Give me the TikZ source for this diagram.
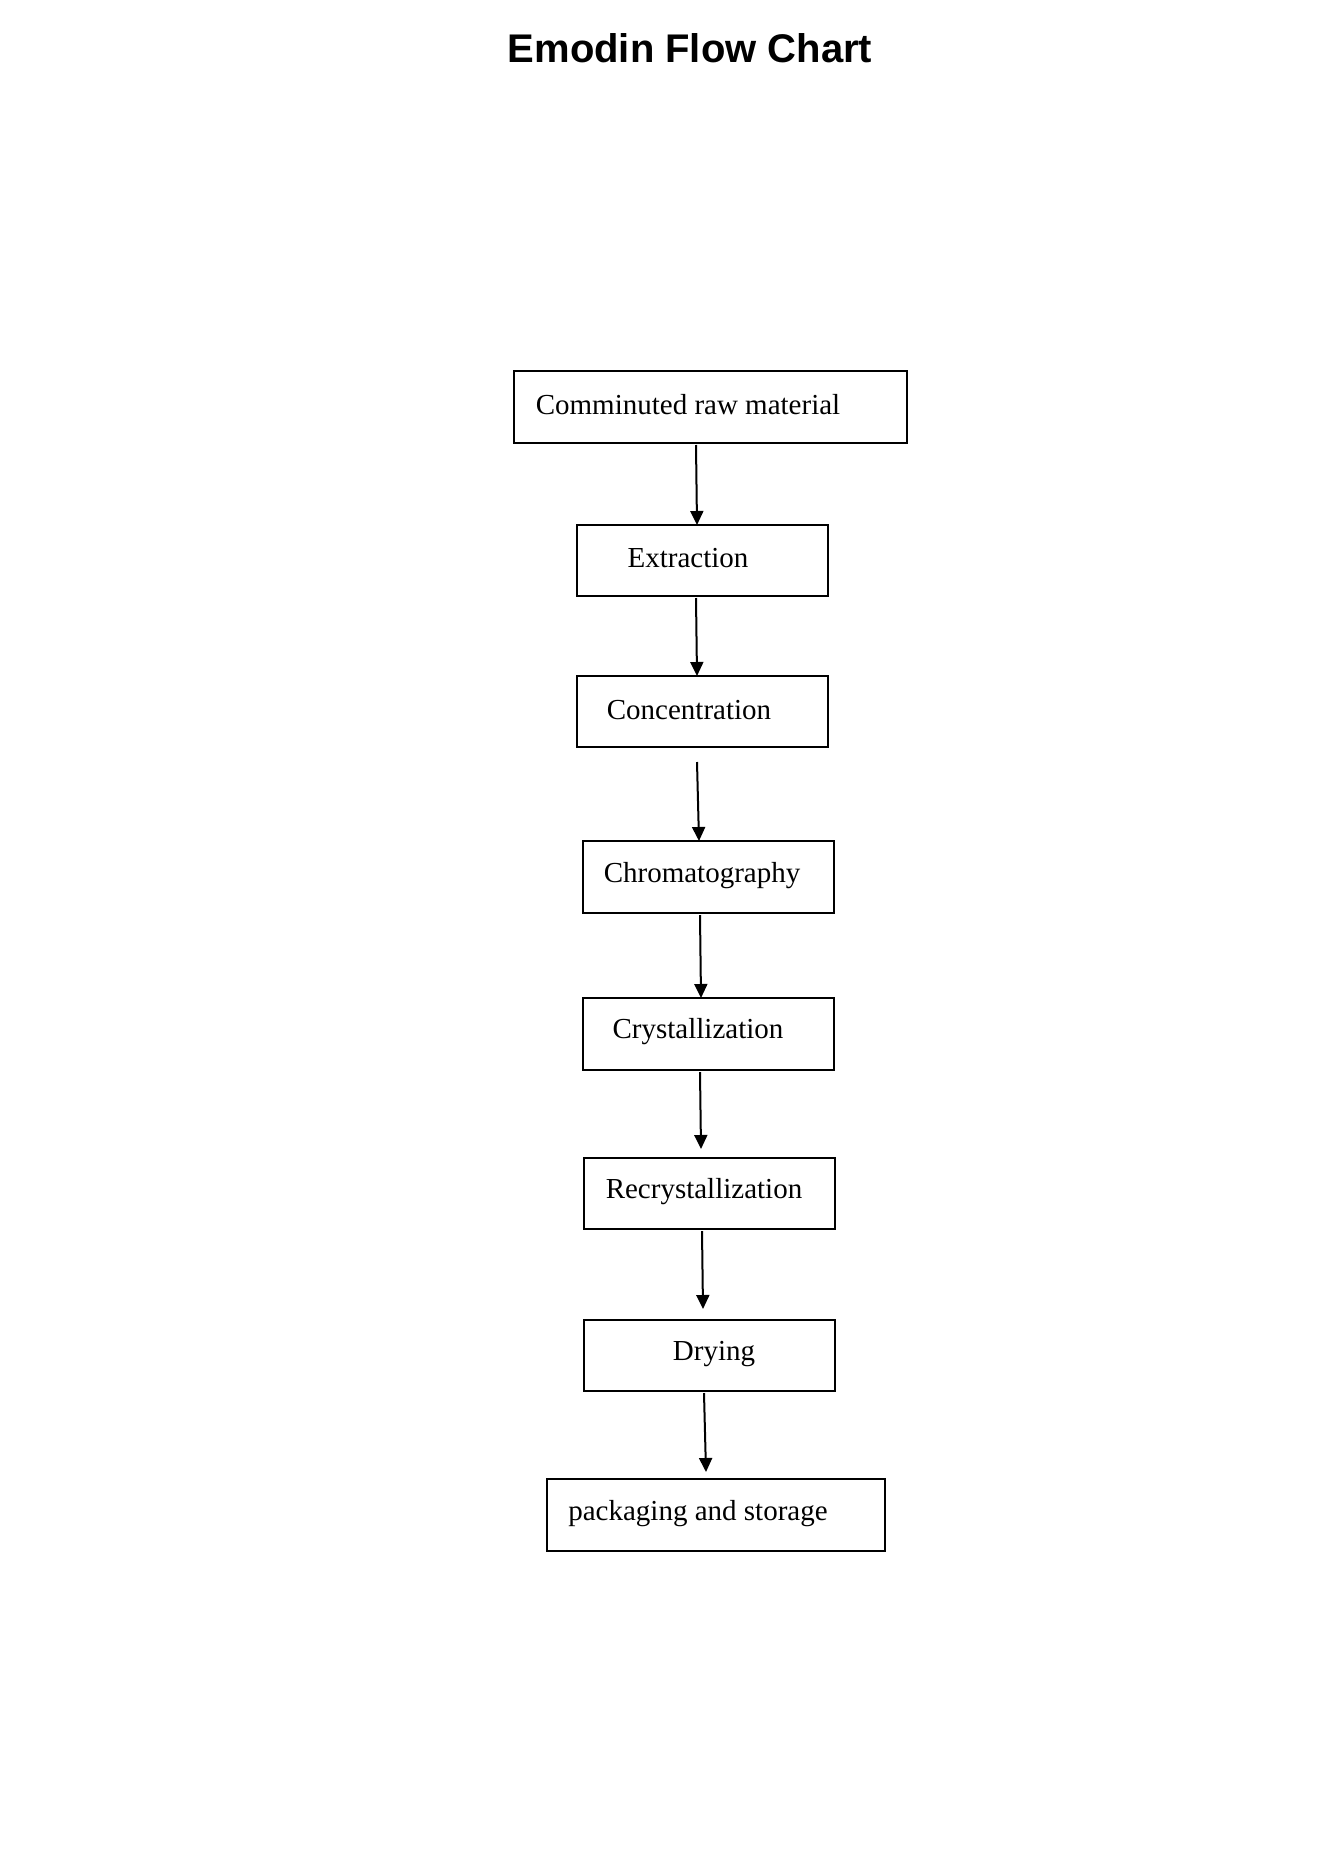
\documentclass[tikz,border=0pt]{standalone}
\usepackage{fontspec}
\setmainfont{Liberation Serif}
\newfontfamily\titlefont{Liberation Sans}
\usetikzlibrary{arrows.meta, positioning}
\begin{document}
\begin{tikzpicture}
			[x=1pt, y=-1pt,
			box/.style={draw, line width=2pt, inner sep=0pt},
			lbl/.style={font=\fontsize{29}{34}\selectfont, text centered},
			arr/.style={-{Triangle[length=14pt, width=13pt]}, line width=2pt}]
			\useasboundingbox (0,0) rectangle (1323,1871);
			% title %
			\node[font=\titlefont\bfseries\fontsize{40}{46}\selectfont] (title) at (690,48) {Emodin Flow Chart};
			% boxes %
			\node[box, minimum width=393pt, minimum height=72pt] (raw) at (710.5,407) {};
			\node[box, minimum width=251pt, minimum height=71pt] (ext) at (702.5,560.5) {};
			\node[box, minimum width=251pt, minimum height=71pt] (con) at (702.5,711.5) {};
			\node[box, minimum width=251pt, minimum height=72pt] (chr) at (708.5,877) {};
			\node[box, minimum width=251pt, minimum height=72pt] (cry) at (708.5,1034) {};
			\node[box, minimum width=251pt, minimum height=71pt] (rec) at (709.5,1193.5) {};
			\node[box, minimum width=251pt, minimum height=71pt] (dry) at (709.5,1355.5) {};
			\node[box, minimum width=338pt, minimum height=72pt] (pkg) at (716,1515) {};
			% texts %
			\node[lbl] at (688,405) {Comminuted raw material};
			\node[lbl] at (688,558) {Extraction};
			\node[lbl] at (689,710) {Concentration};
			\node[lbl] at (702,876) {Chromatography};
			\node[lbl] at (698,1032) {Crystallization};
			\node[lbl] at (704,1192) {Recrystallization};
			\node[lbl] at (714,1354) {Drying};
			\node[lbl] at (698,1514) {packaging and storage};
			% arrow ends %
			\coordinate (a1) at (696,445);
			\coordinate (a2) at (696,598);
			\coordinate (a3) at (697,762);
			\coordinate (a4) at (700,915);
			\coordinate (a5) at (700,1072);
			\coordinate (a6) at (702,1231);
			\coordinate (a7) at (704,1393);
			% edges %
			\draw[arr] (a1) -- (697,525);
			\draw[arr] (a2) -- (697,676);
			\draw[arr] (a3) -- (699,841);
			\draw[arr] (a4) -- (701,998);
			\draw[arr] (a5) -- (701,1149);
			\draw[arr] (a6) -- (703,1309);
			\draw[arr] (a7) -- (706,1472);
\end{tikzpicture}
\end{document}
